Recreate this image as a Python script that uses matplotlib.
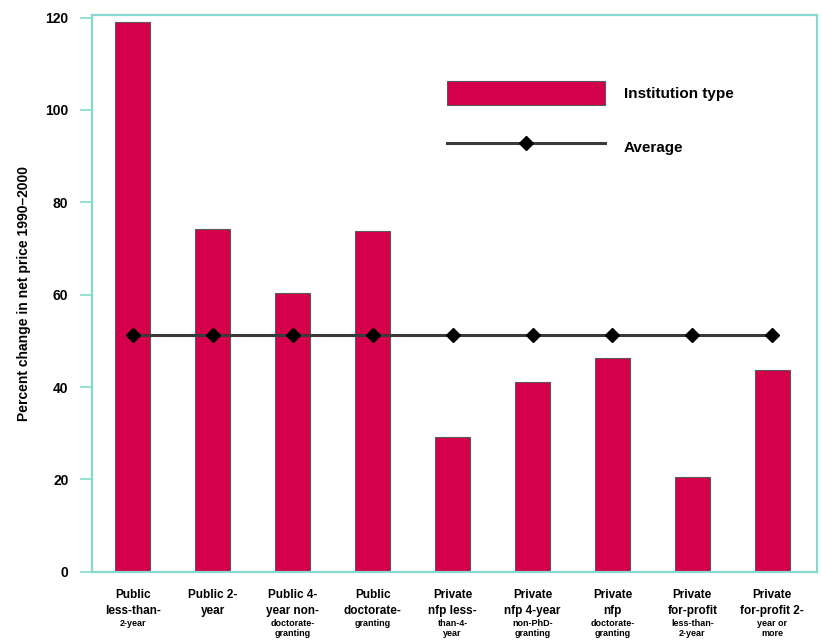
import matplotlib.pyplot as plt
import numpy as np

# Percent change in net price 1990-2000 by institution type
top_lines = ["Public\nless-than-", "Public 2-\nyear", "Public 4-\nyear non-",
             "Public\ndoctorate-", "Private\nnfp less-", "Private\nnfp 4-year",
             "Private\nnfp", "Private\nfor-profit", "Private\nfor-profit 2-"]
small_lines = ["2-year", "", "doctorate-\ngranting", "granting", "than-4-\nyear",
               "non-PhD-\ngranting", "doctorate-\ngranting", "less-than-\n2-year",
               "year or\nmore"]
changes = [119.0, 74.3, 60.4, 73.7, 29.3, 41.0, 46.3, 20.6, 43.8]
average = 51.2

bar_color = "#D5004B"
frame_color = "#86D9CE"

plt.rcParams["font.family"] = ["Liberation Sans", "DejaVu Sans"]
plt.rcParams["font.weight"] = "bold"
plt.rcParams["axes.labelweight"] = "bold"

fig = plt.figure(figsize=(8.22, 6.44), dpi=100)
ax = fig.add_axes([0.112, 0.112, 0.882, 0.865])

x = np.arange(len(changes))
bars = ax.bar(x, changes, width=0.44, color=bar_color, edgecolor="#5a5a5a",
              linewidth=0.8, zorder=2)
avg_line, = ax.plot(x, [average] * len(x), color="#3a3a3a", linewidth=2.2,
                    marker="D", markersize=7, markerfacecolor="black",
                    markeredgecolor="black", zorder=3)

ax.set_xlim(-0.51, 8.56)
ax.set_ylim(0, 120.6)
ax.set_yticks([0, 20, 40, 60, 80, 100, 120])
ax.tick_params(axis="y", direction="out", length=9, width=1.2,
               color=frame_color, labelsize=10, pad=8)
ax.set_xticks(x)
ax.set_xticklabels(top_lines, fontsize=8.5, linespacing=1.45)
ax.tick_params(axis="x", length=0, pad=12)

for i, txt in enumerate(small_lines):
    if txt:
        ax.annotate(txt, xy=(i, 0), xycoords=("data", "axes fraction"),
                    xytext=(0, -34), textcoords="offset points",
                    ha="center", va="top", fontsize=6.5, linespacing=1.15,
                    annotation_clip=False)

for s in ax.spines.values():
    s.set_color(frame_color)
    s.set_linewidth(1.6)

ax.set_ylabel("Percent change in net price 1990\u20132000", fontsize=10,
              labelpad=10)

ax.legend([bars, avg_line], ["Institution type", "Average"],
          loc="upper left", bbox_to_anchor=(0.47, 0.905), frameon=False,
          fontsize=11, handlelength=10.4, handleheight=2.0, labelspacing=1.95,
          handletextpad=1.2)

fig.savefig("out.png", dpi=100)
